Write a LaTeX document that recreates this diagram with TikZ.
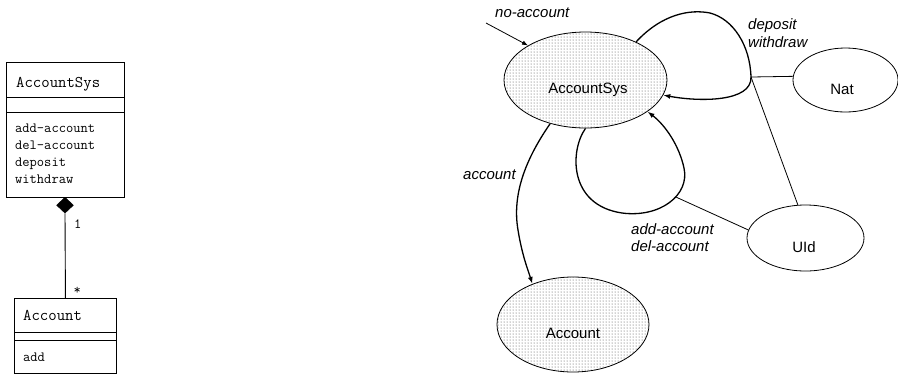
\documentclass[tikz,border=0pt]{standalone}
\usepackage{fontspec}
\setmainfont{Liberation Sans}
\usetikzlibrary{shapes.geometric,patterns,arrows.meta}
\begin{document}
\begin{tikzpicture}[x=1pt,y=-1pt,
  umlbox/.style={draw, line width=0.9pt, rectangle, inner sep=0pt, anchor=north west},
  sepline/.style={line width=0.9pt},
  cname/.style={font=\ttfamily\fontsize{16.3}{18}\selectfont, anchor=base west, inner sep=0pt},
  cop/.style={font=\ttfamily\fontsize{14.1}{16}\selectfont, anchor=base west, inner sep=0pt},
  stateell/.style={draw, ellipse, line width=0.8pt, inner sep=0pt},
  filled/.style={pattern=dots, pattern color=black!75},
  stxt/.style={font=\fontsize{15}{18}\selectfont, anchor=base, inner sep=0pt},
  lbl/.style={font=\itshape\fontsize{15}{18}\selectfont, anchor=base west, inner sep=0pt},
  trans/.style={draw, line width=1.3pt, -{Latex[length=7pt,width=5pt]}},
  thintrans/.style={draw, line width=0.8pt, -{Latex[length=6pt,width=4.5pt]}},
  assoc/.style={draw, line width=0.8pt}]

\useasboundingbox (0,0) rectangle (898,376);

% ---------- UML class diagram (left) ----------
\node[umlbox, minimum width=118, minimum height=135] (asbox) at (6,62) {};
\draw[sepline] (6,97.5) -- (124,97.5);
\draw[sepline] (6,112) -- (124,112);
\node[cname] (asname) at (16,87) {AccountSys};
\node[cop] (op1) at (15,132) {add-account};
\node[cop] (op2) at (15,149) {del-account};
\node[cop] (op3) at (15,166) {deposit};
\node[cop] (op4) at (15,183) {withdraw};

\node[diamond, draw, fill=black, inner sep=0pt, minimum width=17, minimum height=16, anchor=north] (dia) at (65,197) {};

\node[umlbox, minimum width=102, minimum height=75] (accbox) at (14,298) {};
\draw[sepline] (14,332) -- (116,332);
\draw[sepline] (14,340) -- (116,340);
\node[cname] (accname) at (23,320) {Account};
\node[cop] (accop) at (23,361) {add};

\draw[sepline] (dia.south) -- (accbox.north);
\node[cop] (mult1) at (74,228) {1};
\node[cop] (mult2) at (73.5,294) {*};

% ---------- State diagram (right) ----------
\node[stateell, filled, minimum width=163, minimum height=96] (as) at (585.5,80) {};
\node[stxt] (astxt) at (588,93) {AccountSys};
\node[stateell, filled, minimum width=152, minimum height=95] (acc) at (573,324.5) {};
\node[stxt] (acctxt) at (573,338) {Account};
\node[stateell, minimum width=105, minimum height=64] (nat) at (845.5,80) {};
\node[stxt] (nattxt) at (842,94) {Nat};
\node[stateell, minimum width=117, minimum height=66] (uid) at (805.5,238) {};
\node[stxt] (uidtxt) at (804,252) {UId};

% initial arrow
\coordinate (na) at (486,23);
\draw[thintrans] (na) -- (as.149);
\node[lbl] (lno) at (495,17) {no-account};

% account transition
\draw[trans] (as.-129.5) .. controls (525,160) and (512,195) .. (518,230)
  .. controls (522,255) and (528,270) .. (acc.135);
\node[lbl] (lacc) at (463,179) {account};

% deposit / withdraw loop
\coordinate (dw) at (751,77);
\draw[trans] (as.37) .. controls (662,14) and (690,9) .. (710,13)
  .. controls (733,19) and (750,45) .. (dw)
  .. controls (752,102) and (700,102) .. (as.-11);
\node[lbl] (ldep) at (748,29) {deposit};
\node[lbl] (lwd) at (748,47) {withdraw};

% add / del loop
\draw[trans] (as.-90) .. controls (570,150) and (568,205) .. (622,213)
  .. controls (660,218) and (690,195) .. (684,168) coordinate[pos=0.6] (ad)
  .. controls (679,145) and (665,125) .. (as.-27);
\node[lbl] (ladd) at (631,234) {add-account};
\node[lbl] (ldel) at (631,251) {del-account};

% associations to Nat and UId
\draw[assoc] (dw) -- (nat.176);
\draw[assoc] (dw) -- (uid.103);
\draw[assoc] (ad) -- (uid.172);
\end{tikzpicture}
\end{document}
